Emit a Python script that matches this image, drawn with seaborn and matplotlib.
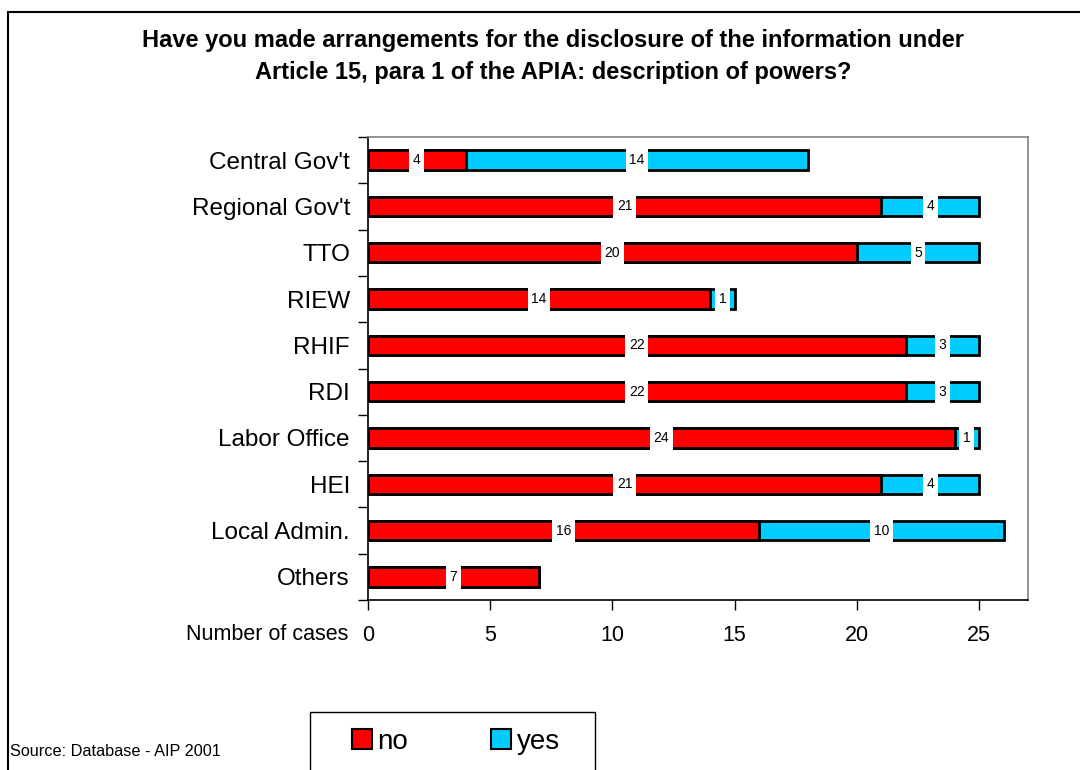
import matplotlib
matplotlib.use("Agg")
import matplotlib.pyplot as plt
from matplotlib.patches import Patch, Rectangle
from matplotlib.lines import Line2D
import numpy as np
import pandas as pd
import seaborn as sns

categories = ["Central Gov't", "Regional Gov't", "TTO", "RIEW", "RHIF", "RDI",
              "Labor Office", "HEI", "Local Admin.", "Others"]
no_counts = [4, 21, 20, 14, 22, 22, 24, 21, 16, 7]
yes_counts = [14, 4, 5, 1, 3, 3, 1, 4, 10, 0]
x_ticks = [0, 5, 10, 15, 20, 25]

RED = "#FF0000"
CYAN = "#00CCFF"

sns.set_theme(style="white")
plt.rcParams["font.family"] = ["Liberation Sans", "DejaVu Sans"]
plt.rcParams["text.color"] = "black"
plt.rcParams["xtick.color"] = "black"
plt.rcParams["ytick.color"] = "black"
plt.rcParams["axes.labelcolor"] = "black"

df = pd.DataFrame({"category": categories, "no": no_counts, "yes": yes_counts})
df["total"] = df["no"] + df["yes"]

fig = plt.figure(figsize=(10.8, 7.7), dpi=100)
ax = fig.add_axes([368 / 1080, 1 - 600 / 770, 660 / 1080, 463 / 770])

# Stacked bars: total in cyan underneath, "no" in red on top
sns.barplot(data=df, x="total", y="category", order=categories, orient="h",
            color=CYAN, saturation=1, width=0.42, edgecolor="black",
            linewidth=2, ax=ax)
sns.barplot(data=df, x="no", y="category", order=categories, orient="h",
            color=RED, saturation=1, width=0.42, edgecolor="black",
            linewidth=2, ax=ax)

# Value labels on white boxes, taller than wide so they cut through the bar
box = dict(boxstyle="square,pad=0.26", mutation_aspect=1.9,
           facecolor="white", edgecolor="none")
for i, (n, y) in enumerate(zip(no_counts, yes_counts)):
    if n > 0:
        ax.text(n / 2, i, str(n), ha="center", va="center", fontsize=10,
                bbox=box, zorder=5)
    if y > 0:
        ax.text(n + y / 2, i, str(y), ha="center", va="center", fontsize=10,
                bbox=box, zorder=5)

ax.set_xlim(0, 27)
ax.set_ylim(len(categories) - 0.5, -0.5)
ax.set_xticks(x_ticks)
ax.set_xticklabels([str(t) for t in x_ticks], fontsize=15.5)
ax.set_xlabel("")
ax.set_ylabel("")
ax.set_yticks(range(len(categories)))
ax.set_yticklabels(categories, fontsize=17.5)
ax.set_yticks(np.arange(-0.5, len(categories) + 0.5, 1), minor=True)
ax.tick_params(axis="y", which="major", length=0, pad=13)
ax.tick_params(axis="y", which="minor", length=7, width=1, color="black",
               direction="out", left=True)
ax.tick_params(axis="x", which="major", length=7, width=1, color="black",
               direction="out", bottom=True, pad=11)
# the top boundary tick continues the grey top frame line
ax.yaxis.get_minor_ticks()[0].tick1line.set_color("#808080")

for side in ["left", "bottom"]:
    ax.spines[side].set_color("black")
    ax.spines[side].set_linewidth(1.2)
for side in ["top", "right"]:
    ax.spines[side].set_color("#808080")
    ax.spines[side].set_linewidth(1.2)

fig.text(348 / 1080, 1 - 635 / 770, "Number of cases", ha="right",
         va="center", fontsize=15.5)

fig.text(553 / 1080, 1 - 40 / 770,
         "Have you made arrangements for the disclosure of the information under",
         ha="center", va="center", fontsize=17, fontweight="bold")
fig.text(553 / 1080, 1 - 72 / 770,
         "Article 15, para 1 of the APIA: description of powers?",
         ha="center", va="center", fontsize=17, fontweight="bold")

fig.text(10 / 1080, 1 - 751 / 770, "Source: Database - AIP 2001",
         ha="left", va="center", fontsize=11.7)

# Outer frame: top and left edges
fig.add_artist(Line2D([8 / 1080, 1], [1 - 12 / 770, 1 - 12 / 770],
                      transform=fig.transFigure, color="black", linewidth=1.5))
fig.add_artist(Line2D([8 / 1080, 8 / 1080], [0, 1 - 12 / 770],
                      transform=fig.transFigure, color="black", linewidth=1.5))

# Legend frame
fig.add_artist(Rectangle((310 / 1080, -0.01), 285 / 1080, 1 - 712 / 770 + 0.01,
                         transform=fig.transFigure, facecolor="white",
                         edgecolor="black", linewidth=1))

handles = [Patch(facecolor=RED, edgecolor="black", linewidth=1.5, label="no"),
           Patch(facecolor=CYAN, edgecolor="black", linewidth=1.5, label="yes")]
leg = fig.legend(handles=handles, loc="center",
                 bbox_to_anchor=(456 / 1080, 1 - 742 / 770), ncol=2,
                 fontsize=20, frameon=False,
                 handlelength=0.72, handleheight=0.72, handletextpad=0.2,
                 columnspacing=3.0, borderpad=0, borderaxespad=0)

fig.savefig("out.png", dpi=100, facecolor="white")
